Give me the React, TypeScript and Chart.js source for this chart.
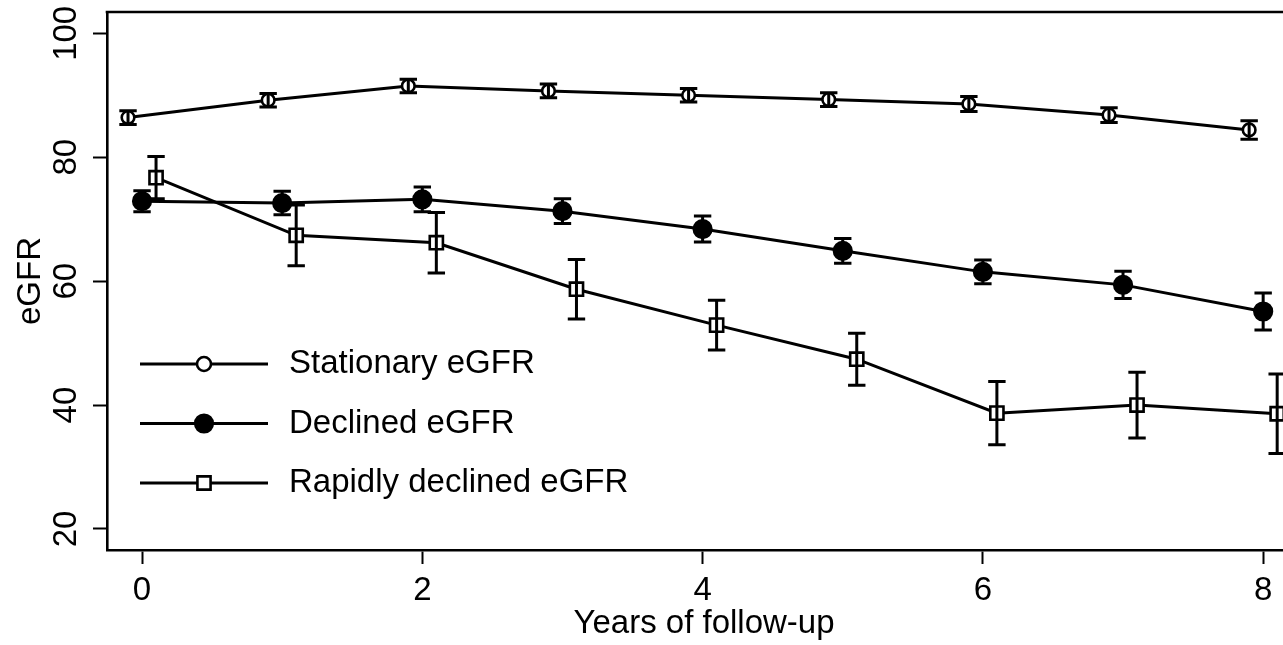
import React, { useEffect, useRef } from 'react';
import { Chart, registerables } from 'chart.js';

Chart.register(...registerables);

// ---------- data ----------
const YEARS = [0, 1, 2, 3, 4, 5, 6, 7, 8];
const X_TICKS = [0, 2, 4, 6, 8];
const Y_TICKS = [20, 40, 60, 80, 100];
const SERIES_LABELS = ['Stationary eGFR', 'Declined eGFR', 'Rapidly declined eGFR'];
const STATIONARY_MEAN = [86.4, 89.2, 91.5, 90.7, 90.0, 89.3, 88.6, 86.8, 84.4];
const STATIONARY_ERR = [1.1, 1.1, 1.1, 1.1, 1.1, 1.1, 1.2, 1.2, 1.5];
const DECLINED_MEAN = [72.9, 72.6, 73.2, 71.3, 68.4, 64.9, 61.5, 59.4, 55.1];
const DECLINED_ERR = [1.7, 1.9, 2.0, 2.0, 2.1, 2.0, 1.9, 2.2, 3.0];
const RAPID_MEAN = [76.7, 67.4, 66.2, 58.7, 52.9, 47.4, 38.7, 40.0, 38.6];
const RAPID_ERR = [3.4, 4.9, 4.9, 4.8, 4.0, 4.2, 5.1, 5.3, 6.4];
const X_TITLE = 'Years of follow-up';
const Y_TITLE = 'eGFR';

// ---------- style ----------
const FONT = '"Liberation Sans", Arial, Helvetica, sans-serif';
const FONT_SIZE = 33;
const INK = '#000000';
const DODGE = [-0.1, 0, 0.1];

const MEANS = [STATIONARY_MEAN, DECLINED_MEAN, RAPID_MEAN];
const ERRS = [STATIONARY_ERR, DECLINED_ERR, RAPID_ERR];
const STYLES = [
  { pointStyle: 'circle', radius: 6.3, fill: '#ffffff' },
  { pointStyle: 'circle', radius: 8.8, fill: INK },
  { pointStyle: 'rect', radius: 9.3, fill: '#ffffff' },
];

const errorBarPlugin = {
  id: 'errorBars',
  afterDatasetsDraw(chart: any) {
    const ctx = chart.ctx;
    const y = chart.scales.y;
    ctx.save();
    ctx.strokeStyle = INK;
    ctx.lineWidth = 3;
    ctx.lineCap = 'butt';
    chart.data.datasets.forEach((ds: any, i: number) => {
      const meta = chart.getDatasetMeta(i);
      meta.data.forEach((pt: any, j: number) => {
        const v = ds.data[j].y;
        const e = ds.errors[j];
        const top = y.getPixelForValue(v + e);
        const bot = y.getPixelForValue(v - e);
        const cap = 8.7;
        ctx.beginPath();
        ctx.moveTo(pt.x, top);
        ctx.lineTo(pt.x, bot);
        ctx.moveTo(pt.x - cap, top);
        ctx.lineTo(pt.x + cap, top);
        ctx.moveTo(pt.x - cap, bot);
        ctx.lineTo(pt.x + cap, bot);
        ctx.stroke();
      });
    });
    ctx.restore();
  },
};

const decorPlugin = {
  id: 'decor',
  afterDraw(chart: any) {
    const ctx = chart.ctx;
    const area = chart.chartArea;
    const yScale = chart.scales.y;
    ctx.save();
    // top frame line
    ctx.strokeStyle = INK;
    ctx.lineWidth = 2.6;
    ctx.beginPath();
    ctx.moveTo(area.left - 1.3, area.top);
    ctx.lineTo(area.right, area.top);
    ctx.stroke();

    // rotated y tick labels
    ctx.fillStyle = INK;
    ctx.font = `${FONT_SIZE}px ${FONT}`;
    ctx.textAlign = 'center';
    ctx.textBaseline = 'middle';
    yScale.ticks.forEach((t: any) => {
      const py = yScale.getPixelForValue(t.value);
      ctx.save();
      ctx.translate(area.left - 40, py);
      ctx.rotate(-Math.PI / 2);
      ctx.fillText(String(t.value), 0, 0);
      ctx.restore();
    });

    // legend inside the plot
    const lx0 = area.left + 33;
    const lx1 = area.left + 161;
    const mx = area.left + 97;
    const tx = area.left + 182;
    const rowY = [364, 423.5, 483];
    chart.data.datasets.forEach((ds: any, i: number) => {
      const ry = rowY[i];
      ctx.strokeStyle = INK;
      ctx.lineWidth = 3;
      ctx.beginPath();
      ctx.moveTo(lx0, ry);
      ctx.lineTo(lx1, ry);
      ctx.stroke();
      const st = STYLES[i];
      ctx.fillStyle = st.fill;
      ctx.lineWidth = 2.6;
      ctx.beginPath();
      if (st.pointStyle === 'circle') {
        ctx.arc(mx, ry, i === 0 ? 7 : st.radius, 0, Math.PI * 2);
      } else {
        const h = st.radius * Math.SQRT1_2;
        ctx.rect(mx - h, ry - h, 2 * h, 2 * h);
      }
      ctx.fill();
      ctx.stroke();
      ctx.fillStyle = INK;
      ctx.textAlign = 'left';
      ctx.textBaseline = 'middle';
      ctx.fillText(ds.label, tx, ry);
    });
    ctx.restore();
  },
};

export default function App() {
  const ref = useRef<HTMLCanvasElement | null>(null);

  useEffect(() => {
    if (!ref.current) return;
    const datasets = SERIES_LABELS.map((label, i) => ({
      label,
      data: YEARS.map((yr, j) => ({ x: yr + DODGE[i], y: MEANS[i][j] })),
      errors: ERRS[i],
      borderColor: INK,
      borderWidth: 3,
      tension: 0,
      fill: false,
      pointStyle: STYLES[i].pointStyle,
      pointRadius: STYLES[i].radius,
      pointHoverRadius: STYLES[i].radius,
      pointBackgroundColor: STYLES[i].fill,
      pointBorderColor: INK,
      pointBorderWidth: 2.6,
      clip: false,
    }));

    const chart = new Chart(ref.current, {
      type: 'line',
      data: { datasets } as any,
      options: {
        animation: false,
        responsive: false,
        devicePixelRatio: 1,
        events: [],
        layout: { autoPadding: false, padding: { left: 0, right: 0, top: 12, bottom: 0 } },
        plugins: {
          legend: { display: false },
          tooltip: { enabled: false },
          title: { display: false },
        },
        scales: {
          x: {
            type: 'linear',
            min: -0.25,
            max: 8.27,
            afterBuildTicks: (s: any) => {
              s.ticks = X_TICKS.map((v) => ({ value: v }));
            },
            afterFit: (s: any) => {
              s.height = 95;
              s.paddingLeft = 0;
              s.paddingRight = 0;
            },
            grid: {
              display: true,
              drawOnChartArea: false,
              drawTicks: true,
              tickLength: 14,
              tickWidth: 2,
              tickColor: INK,
            },
            border: { display: true, color: INK, width: 2.6 },
            ticks: {
              color: INK,
              padding: 7,
              maxRotation: 0,
              autoSkip: false,
              font: { family: FONT, size: FONT_SIZE, lineHeight: 1.2 },
            },
            title: {
              display: true,
              text: X_TITLE,
              color: INK,
              padding: { top: 0, bottom: 1.5 },
              font: { family: FONT, size: FONT_SIZE, lineHeight: 1.2 },
            },
          },
          y: {
            type: 'linear',
            min: 16.61,
            max: 103.44,
            afterBuildTicks: (s: any) => {
              s.ticks = Y_TICKS.map((v) => ({ value: v }));
            },
            afterFit: (s: any) => {
              s.width = 107;
              s.paddingTop = 0;
              s.paddingBottom = 0;
            },
            grid: {
              display: true,
              drawOnChartArea: false,
              drawTicks: true,
              tickLength: 14,
              tickWidth: 2,
              tickColor: INK,
            },
            border: { display: true, color: INK, width: 2.6 },
            ticks: { display: false },
            title: {
              display: true,
              text: Y_TITLE,
              color: INK,
              padding: { top: 10.8, bottom: 0 },
              font: { family: FONT, size: FONT_SIZE, lineHeight: 1.2 },
            },
          },
        },
      } as any,
      plugins: [errorBarPlugin, decorPlugin],
    });
    return () => chart.destroy();
  }, []);

  return (
    <div
      style={{
        position: 'fixed',
        left: 0,
        top: 0,
        width: 1283,
        height: 645,
        overflow: 'hidden',
        background: '#ffffff',
      }}
    >
      <canvas ref={ref} width={1301} height={645} style={{ display: 'block', width: 1301, height: 645 }} />
    </div>
  );
}
